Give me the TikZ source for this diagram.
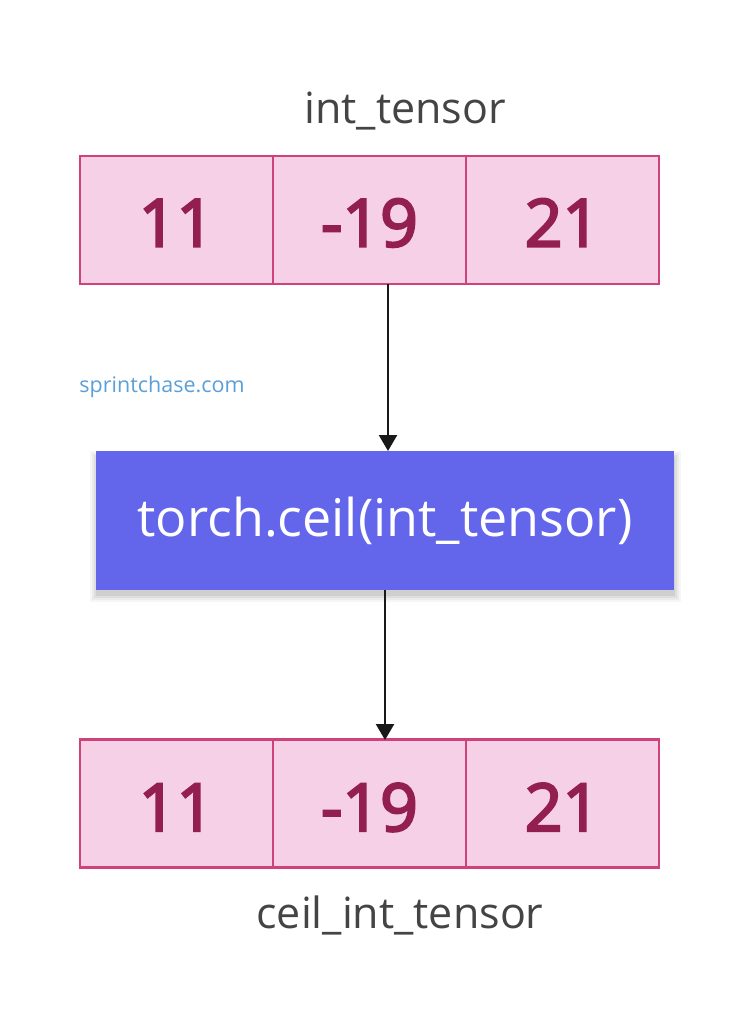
\documentclass[tikz,border=0pt]{standalone}
\usepackage{fontspec}
\usetikzlibrary{arrows.meta}
\setmainfont{Open Sans}
\newfontfamily\semib{Open Sans}[FakeBold=3.5]
\definecolor{cellfill}{HTML}{F5D0E6}
\definecolor{celldraw}{HTML}{D0437A}
\definecolor{celltext}{HTML}{931F50}
\definecolor{labeltext}{HTML}{444444}
\definecolor{opfill}{HTML}{6366EA}
\definecolor{wmark}{HTML}{5A9FD8}
\begin{document}
\begin{tikzpicture}[x=1pt,y=-1pt,
  cell/.style={draw=celldraw,line width=2.2pt,fill=cellfill,minimum width=193pt,minimum height=128pt,inner sep=0pt,
    font=\semib\fontsize{66}{70}\selectfont,text=celltext,text depth=0pt},
  topcell/.style={cell,text height=53pt},
  botcell/.style={cell,text height=55pt},
  lbl/.style={font=\fontsize{43}{48}\selectfont,text=labeltext,inner sep=0pt},
  op/.style={fill=opfill,minimum width=578pt,minimum height=139pt,inner sep=0pt,text=white,
    font=\fontsize{52}{58}\selectfont},
  arr/.style={draw=black!90,line width=2.5pt,-{Triangle[length=16pt,width=18pt]}}]
\useasboundingbox (0,0) rectangle (739,1024);
\node[lbl] (inlbl) at (405,111) {int\_tensor};
\node[topcell] (a1) at (176.5,220) {11};
\node[topcell] (a2) at (369.5,220) {-19};
\node[topcell] (a3) at (562.5,220) {21};
\node[font=\fontsize{21.5}{24}\selectfont,text=wmark,inner sep=0pt] (wm) at (162,387) {sprintchase.com};
\foreach \d/\o in {7/0.035,5/0.045,3/0.055,1/0.065}{
  \fill[black,opacity=\o] (96-\d+1,451-\d+7) rectangle (674+\d,590+\d+5);
}
\node[op] (op) at (385,520.5) {torch.ceil(int\_tensor)};
\node[botcell] (b1) at (176.5,803.5) {11};
\node[botcell] (b2) at (369.5,803.5) {-19};
\node[botcell] (b3) at (562.5,803.5) {21};
\node[lbl] (outlbl) at (400,915) {ceil\_int\_tensor};
\coordinate (s1) at (388,284);
\coordinate (e1) at (388,451);
\coordinate (s2) at (385,590);
\coordinate (e2) at (385,740);
\draw[arr] (s1) -- (e1);
\draw[arr] (s2) -- (e2);
\end{tikzpicture}
\end{document}
